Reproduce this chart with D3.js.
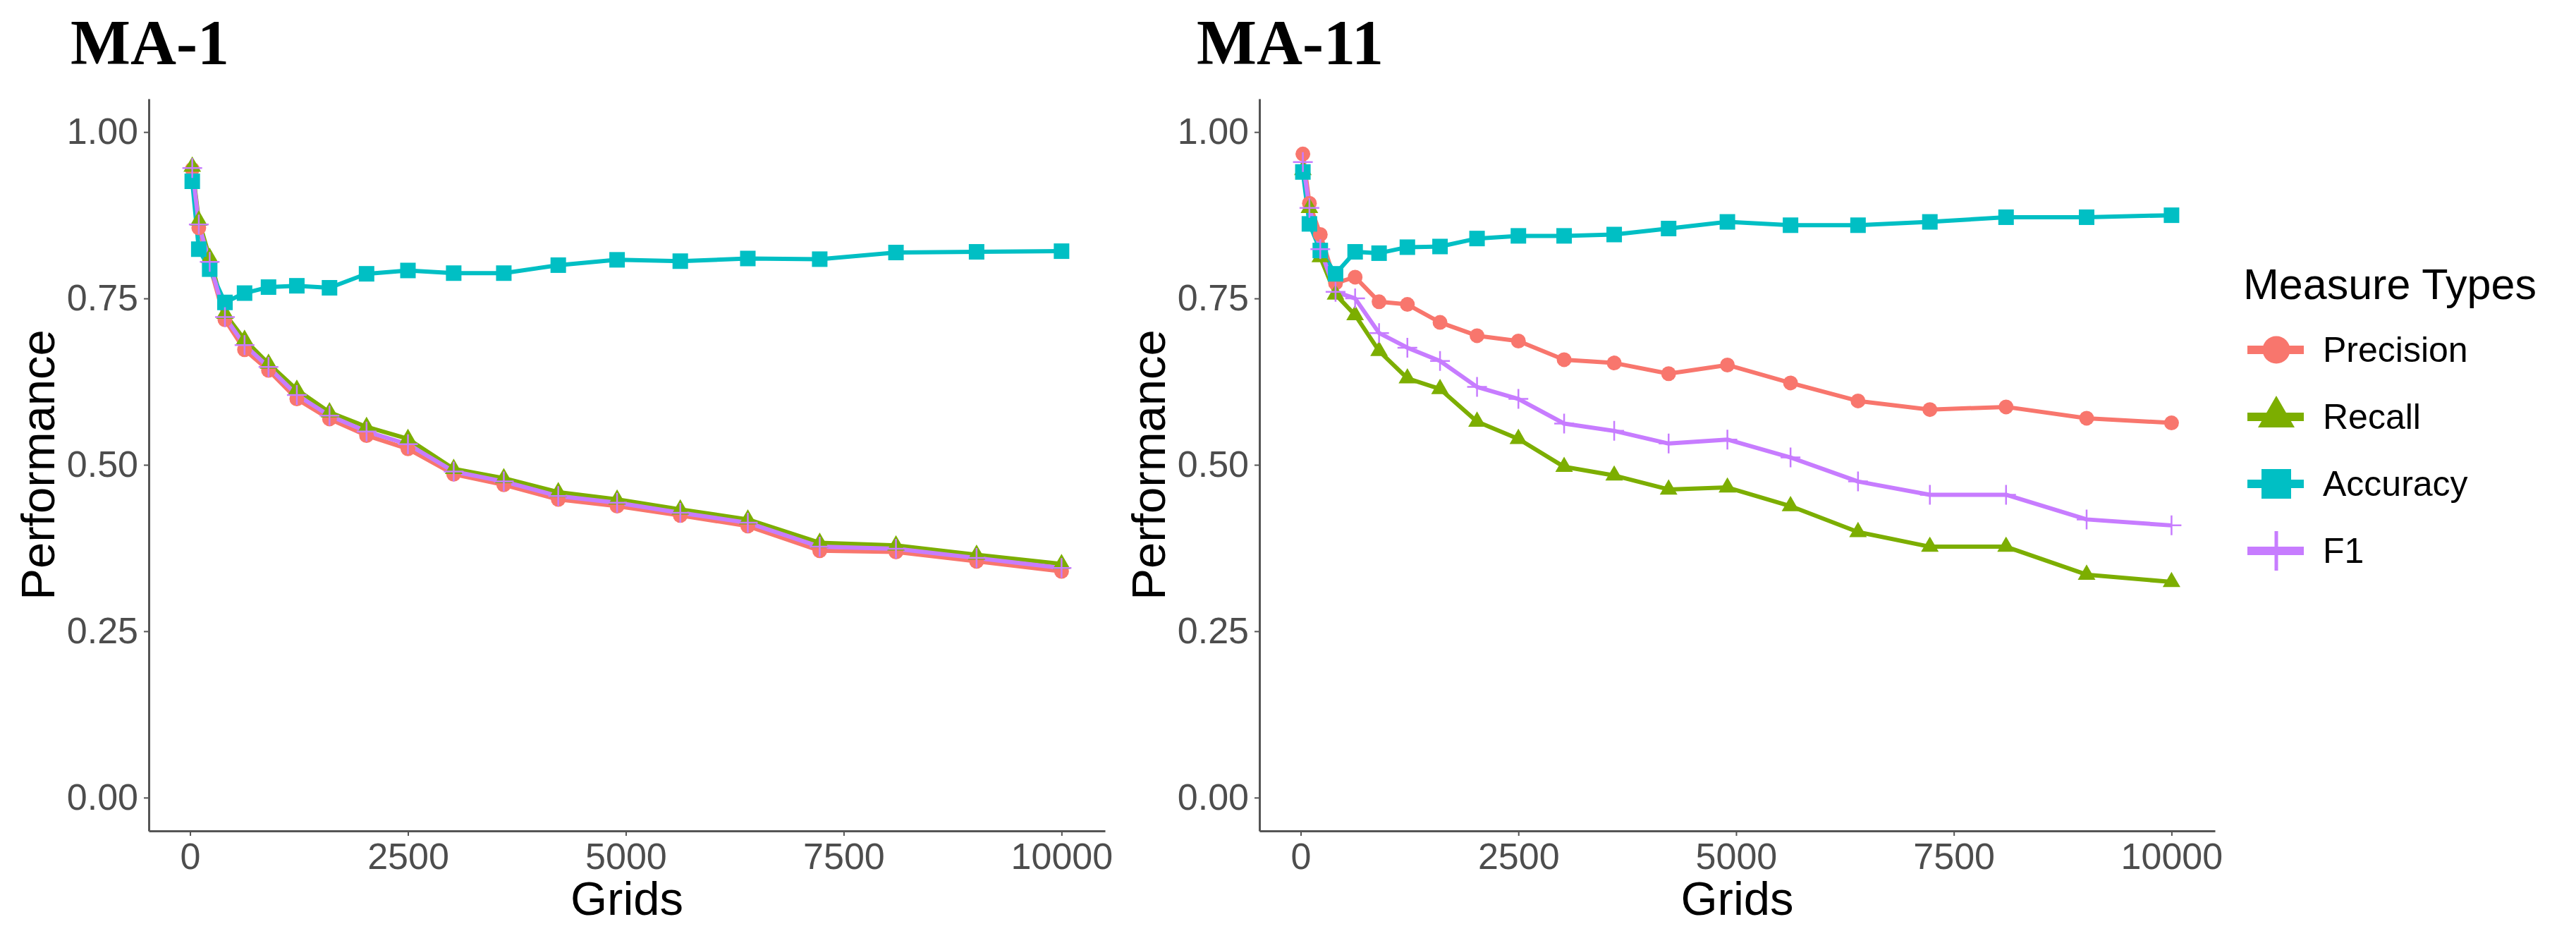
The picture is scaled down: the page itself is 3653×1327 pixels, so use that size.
<!DOCTYPE html>
<meta charset="utf-8">
<script src="https://d3js.org/d3.v7.min.js"></script>
<style>
  body { margin: 0; background: #fff; }
  text { font-family: "Liberation Sans", Arial, sans-serif; }
</style>
<div id="chart"></div>
<script>
  // data
  const grids = [25, 100, 225, 400, 625, 900, 1225, 1600, 2025, 2500, 3025, 3600, 4225, 4900, 5625, 6400, 7225, 8100, 9025, 10000];

  const precisionMA1 = [0.944, 0.856, 0.800, 0.718, 0.673, 0.642, 0.599, 0.569, 0.544, 0.524, 0.486, 0.470, 0.448, 0.438, 0.424, 0.408, 0.371, 0.369, 0.355, 0.340];
  const recallMA1    = [0.948, 0.867, 0.811, 0.727, 0.688, 0.652, 0.613, 0.579, 0.557, 0.539, 0.494, 0.480, 0.459, 0.448, 0.433, 0.418, 0.383, 0.379, 0.365, 0.351];
  const accuracyMA1  = [0.926, 0.824, 0.794, 0.744, 0.758, 0.767, 0.769, 0.766, 0.787, 0.792, 0.788, 0.788, 0.800, 0.808, 0.806, 0.810, 0.809, 0.819, 0.820, 0.821];
  const f1MA1        = [0.946, 0.861, 0.805, 0.722, 0.680, 0.647, 0.605, 0.574, 0.550, 0.531, 0.490, 0.475, 0.453, 0.443, 0.428, 0.413, 0.377, 0.374, 0.360, 0.345];

  const precisionMA11 = [0.967, 0.893, 0.846, 0.773, 0.782, 0.745, 0.741, 0.714, 0.694, 0.686, 0.658, 0.653, 0.637, 0.650, 0.623, 0.596, 0.583, 0.587, 0.570, 0.563];
  const recallMA11    = [0.943, 0.886, 0.812, 0.756, 0.725, 0.671, 0.630, 0.614, 0.565, 0.539, 0.497, 0.484, 0.463, 0.466, 0.438, 0.399, 0.377, 0.377, 0.335, 0.324];
  const accuracyMA11  = [0.940, 0.862, 0.822, 0.787, 0.820, 0.818, 0.827, 0.828, 0.840, 0.844, 0.844, 0.846, 0.855, 0.865, 0.860, 0.860, 0.865, 0.872, 0.872, 0.875];
  const f1MA11        = [0.955, 0.886, 0.824, 0.760, 0.750, 0.698, 0.676, 0.656, 0.617, 0.599, 0.562, 0.551, 0.532, 0.538, 0.511, 0.475, 0.455, 0.455, 0.418, 0.409];

  const measures = ["Precision", "Recall", "Accuracy", "F1"];
  const panelTitles = ["MA-1", "MA-11"];
  const xTicks = [0, 2500, 5000, 7500, 10000];
  const yTicks = [0, 0.25, 0.5, 0.75, 1];

  const colors = { Precision: "#F8766D", Recall: "#7CAE00", Accuracy: "#00BFC4", F1: "#C77CFF" };

  const W = 3653, H = 1327;
  const svg = d3.select("#chart").append("svg")
    .attr("width", W).attr("height", H);

  // ggplot style 5% expansion on both axes
  const xExt = d3.extent(grids);
  const xPad = (xExt[1] - xExt[0]) * 0.05;
  const yTop = 140, yBottom = 1178;

  const y = d3.scaleLinear().domain([-0.05, 1.05]).range([yBottom, yTop]);

  // marker paths
  function markerPath(kind, s) {
    if (kind === "Precision") return d3.symbol(d3.symbolCircle, Math.PI * s * s / 4)();
    if (kind === "Recall") return d3.symbol(d3.symbolTriangle, 0.433 * s * s)();
    if (kind === "Accuracy") return d3.symbol(d3.symbolSquare, s * s)();
    const h = s / 2;
    return `M${-h},0H${h}M0,${-h}V${h}`;
  }

  function styleAxis(a) {
    a.select(".domain").attr("stroke", "#555").attr("stroke-width", 3);
    a.selectAll(".tick line").attr("stroke", "#555").attr("stroke-width", 2);
    a.selectAll("text").attr("fill", "#4D4D4D").style("font-size", "52px")
      .style("font-family", "Liberation Sans");
  }

  function drawPanel(series, left, right, title, titleX) {
    const x = d3.scaleLinear().domain([xExt[0] - xPad, xExt[1] + xPad]).range([left, right]);
    const g = svg.append("g");

    // axes
    g.append("g")
      .attr("transform", `translate(0,${yBottom})`)
      .call(d3.axisBottom(x).tickValues(xTicks).tickFormat(d3.format("d"))
        .tickSizeInner(7).tickSizeOuter(0).tickPadding(10))
      .call(styleAxis);

    g.append("g")
      .attr("transform", `translate(${left},0)`)
      .call(d3.axisLeft(y).tickValues(yTicks).tickFormat(d3.format(".2f"))
        .tickSizeInner(7).tickSizeOuter(0).tickPadding(8))
      .call(styleAxis);

    // axis titles
    g.append("text")
      .attr("x", (left + right) / 2).attr("y", 1297)
      .attr("text-anchor", "middle")
      .style("font-size", "67px")
      .text("Grids");

    g.append("text")
      .attr("transform", `translate(${left - 134},${(yTop + yBottom) / 2}) rotate(-90)`)
      .attr("text-anchor", "middle")
      .style("font-size", "67px")
      .text("Performance");

    // panel title
    g.append("text")
      .attr("x", titleX).attr("y", 91)
      .style("font-family", "Liberation Serif")
      .style("font-weight", "bold")
      .style("font-size", "90px")
      .text(title);

    const line = d3.line().x(d => x(d[0])).y(d => y(d[1]));

    measures.forEach(m => {
      const pts = grids.map((gv, i) => [gv, series[m][i]]);
      g.append("path")
        .datum(pts)
        .attr("fill", "none")
        .attr("stroke", colors[m])
        .attr("stroke-width", 6)
        .attr("stroke-linejoin", "round")
        .attr("d", line);
    });

    const sizes = { Precision: 21, Recall: 25, Accuracy: 22, F1: 28 };
    measures.forEach(m => {
      const pts = grids.map((gv, i) => [gv, series[m][i]]);
      g.selectAll(null)
        .data(pts)
        .enter()
        .append("path")
        .attr("transform", d => `translate(${x(d[0])},${y(d[1])})`)
        .attr("d", markerPath(m, sizes[m]))
        .attr("fill", m === "F1" ? "none" : colors[m])
        .attr("stroke", m === "F1" ? colors[m] : "none")
        .attr("stroke-width", 2.5);
    });
  }

  drawPanel({ Precision: precisionMA1, Recall: recallMA1, Accuracy: accuracyMA1, F1: f1MA1 },
    211, 1567, panelTitles[0], 100);
  drawPanel({ Precision: precisionMA11, Recall: recallMA11, Accuracy: accuracyMA11, F1: f1MA11 },
    1786, 3141, panelTitles[1], 1697);

  // legend
  const legend = svg.append("g");
  legend.append("text")
    .attr("x", 3181).attr("y", 424)
    .style("font-size", "61px")
    .text("Measure Types");

  const keySizes = { Precision: 39, Recall: 52, Accuracy: 42, F1: 56 };
  measures.forEach((m, i) => {
    const cy = 496 + i * 95;
    legend.append("line")
      .attr("x1", 3187).attr("x2", 3267)
      .attr("y1", cy).attr("y2", cy)
      .attr("stroke", colors[m])
      .attr("stroke-width", 12);
    legend.append("path")
      .attr("transform", `translate(3228,${cy})`)
      .attr("d", markerPath(m, keySizes[m]))
      .attr("fill", m === "F1" ? "none" : colors[m])
      .attr("stroke", m === "F1" ? colors[m] : "none")
      .attr("stroke-width", 5);
    legend.append("text")
      .attr("x", 3294).attr("y", cy)
      .attr("dominant-baseline", "central")
      .style("font-size", "50px")
      .text(m);
  });
</script>
